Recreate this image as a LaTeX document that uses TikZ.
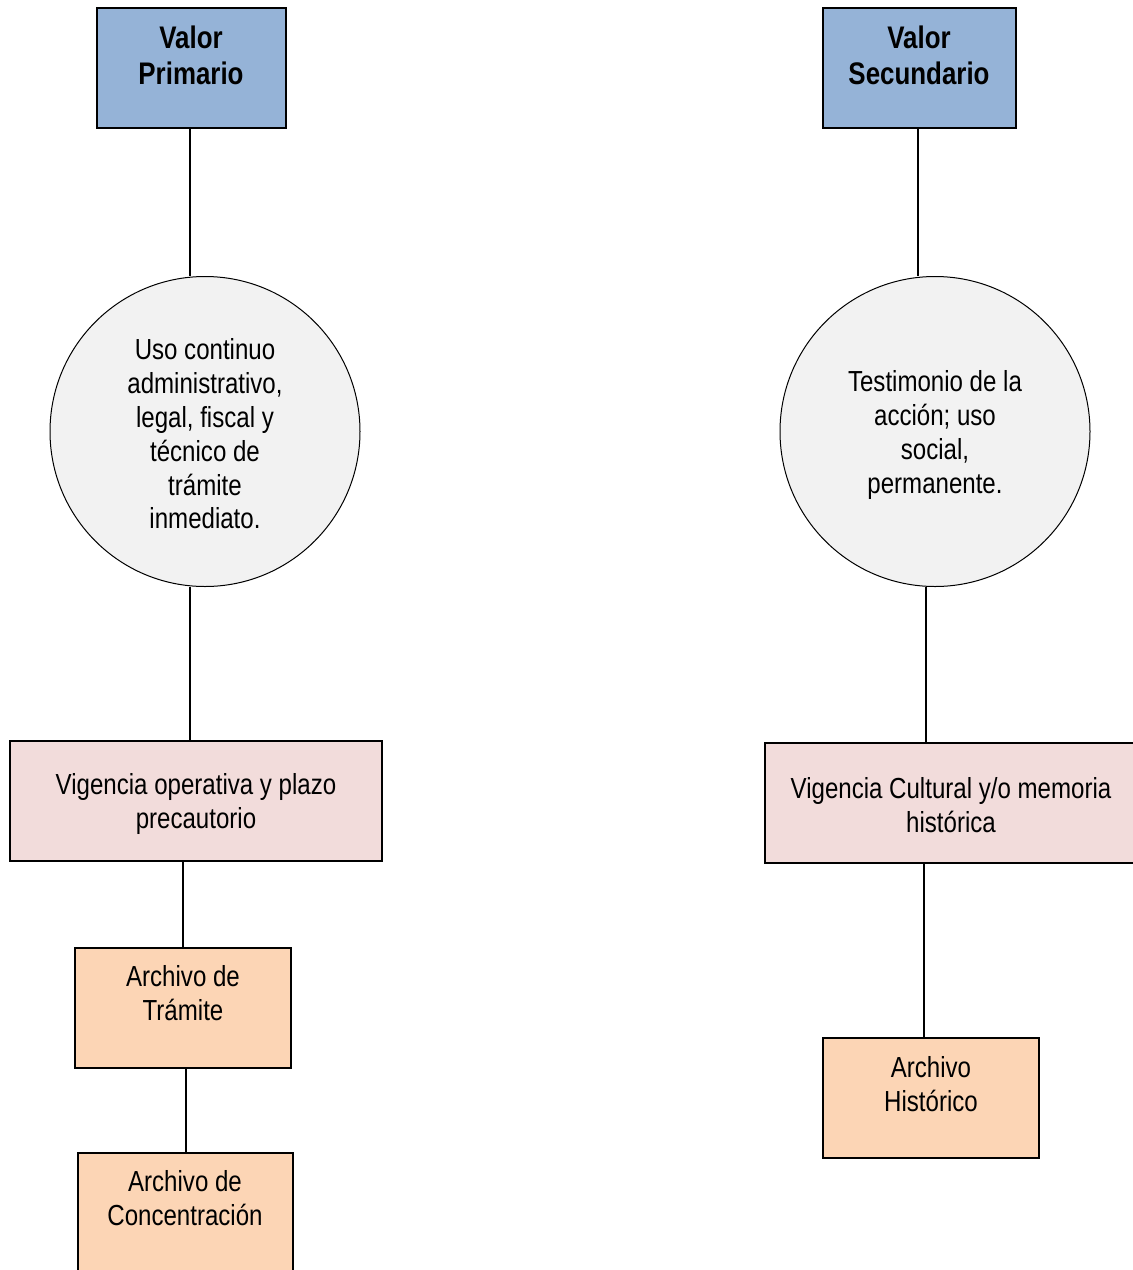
\documentclass[tikz,border=0pt]{standalone}
\usepackage{fontspec}
\setmainfont[FakeStretch=0.83]{Liberation Sans}
\usetikzlibrary{calc}
\definecolor{cblue}{HTML}{95B3D7}
\definecolor{cpink}{HTML}{F2DCDB}
\definecolor{corange}{HTML}{FCD5B5}
\definecolor{cgrey}{HTML}{F2F2F2}
\tikzset{
  box/.style={draw=black, line width=0.9pt, rectangle, inner sep=0pt, minimum height=60pt},
  bluebox/.style={box, fill=cblue},
  pinkbox/.style={box, fill=cpink, minimum width=186pt},
  orangebox/.style={box, fill=corange, minimum width=108pt},
  circ/.style={draw=black, line width=0.5pt, circle, fill=cgrey, minimum size=155pt, inner sep=0pt},
  txt/.style={align=center, inner sep=0pt, font=\fontsize{14.5pt}{16.9pt}\selectfont},
  btxt/.style={txt, font=\fontsize{15.6pt}{18pt}\selectfont\bfseries},
  conn/.style={draw=black, line width=0.75pt}
}
\begin{document}
\begin{tikzpicture}[x=0.5pt, y=-0.5pt]
\useasboundingbox (0,0) rectangle (1132,1270);
% left column
\node[bluebox, minimum width=94.5pt] (vp) at (191.5,68) {};
\node[btxt] (vpt) at (191,55) {Valor\\Primario};
\node[circ] (c1) at (205,431.5) {};
\node[txt] (c1t) at (205,434) {Uso continuo\\administrativo,\\legal, fiscal y\\técnico de\\trámite\\inmediato.};
\node[pinkbox] (vo) at (196,801) {};
\node[txt] (vot) at (196,804) {Vigencia operativa y plazo\\precautorio};
\node[orangebox] (at) at (183,1008) {};
\node[txt] (att) at (183,993) {Archivo de\\Trámite};
\node[orangebox, minimum width=107.5pt] (ac) at (185.5,1213) {};
\node[txt] (act) at (185,1198) {Archivo de\\Concentración};
% right column
\node[bluebox, minimum width=96.5pt] (vs) at (919.5,68) {};
\node[btxt] (vst) at (919,55) {Valor\\Secundario};
\node[circ] (c2) at (935,431.5) {};
\node[txt] (c2t) at (935,435) {Testimonio de la\\acción; uso\\social,\\permanente.};
\node[pinkbox] (vc) at (951,803) {};
\node[txt] (vct) at (951,805) {Vigencia Cultural y/o memoria\\histórica};
\node[orangebox] (ah) at (931,1098) {};
\node[txt] (aht) at (931,1084) {Archivo\\Histórico};
% connectors left
\draw[conn] ([xshift=-0.75pt]vp.south) -- ([xshift=-0.75pt]vp.south |- c1.north);
\draw[conn] ([xshift=-0.75pt]vp.south |- c1.south) -- ([xshift=-0.75pt]vp.south |- vo.north);
\draw[conn] (at.north |- vo.south) -- (at.north);
\draw[conn] ([xshift=0.25pt]ac.north |- at.south) -- ([xshift=0.25pt]ac.north);
% connectors right
\draw[conn] ([xshift=-0.75pt]vs.south) -- ([xshift=-0.75pt]vs.south |- c2.north);
\draw[conn] ([xshift=-4.5pt]c2.south) -- ([xshift=-4.5pt]c2.south |- vc.north);
\draw[conn] ([xshift=-3.5pt]ah.north |- vc.south) -- ([xshift=-3.5pt]ah.north);
\end{tikzpicture}
\end{document}
